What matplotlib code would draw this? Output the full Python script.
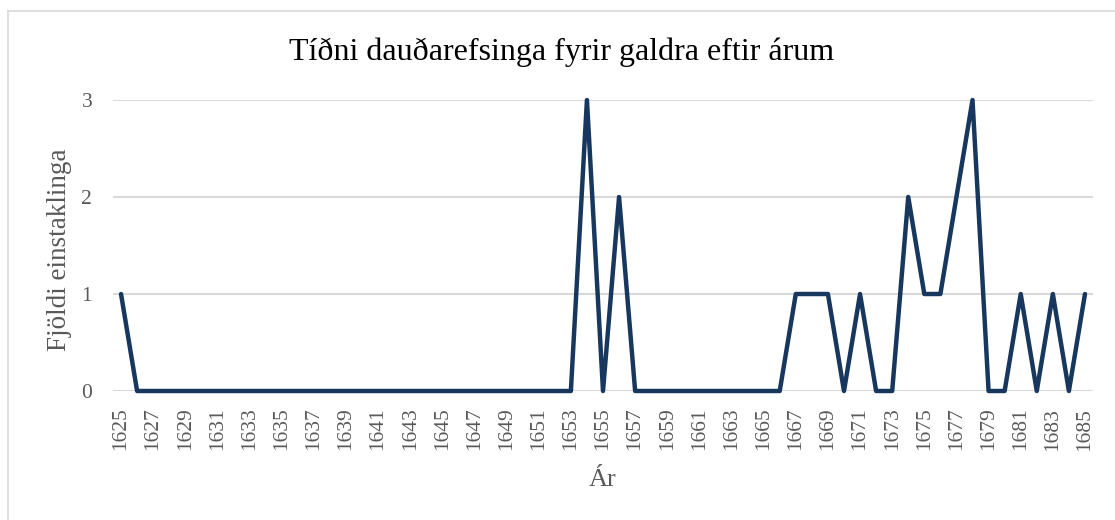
import matplotlib
matplotlib.use("Agg")
import matplotlib.pyplot as plt
import numpy as np

years = list(range(1625, 1686))
values = [1] + [0]*28 + [3, 0, 2] + [0]*10 + [1, 1, 1, 0, 1, 0, 0, 2, 1, 1, 2, 3, 0, 0, 1, 0, 1, 0, 1]
tick_years = list(range(1625, 1686, 2))
title = "Tíðni dauðarefsinga fyrir galdra eftir árum"
xlabel = "Ár"
ylabel = "Fjöldi einstaklinga"

plt.rcParams['font.family'] = ['Liberation Serif', 'DejaVu Serif']

W, H = 1115, 520
fig = plt.figure(figsize=(W/100, H/100), dpi=100)
ax = fig.add_axes([113/W, 1-391/H, (1093-113)/W, (391-100)/H])

# outer border (top and left visible)
fig.add_artist(plt.Line2D([8/W, 8/W], [0, 1-11/H], color='#d9d9d9', lw=1.2, transform=fig.transFigure))
fig.add_artist(plt.Line2D([8/W, 1], [1-11/H, 1-11/H], color='#d9d9d9', lw=1.2, transform=fig.transFigure))

ax.plot(years, values, color='#17375E', lw=3.2, solid_joinstyle='round', solid_capstyle='round', clip_on=False, zorder=3)
ax.set_xlim(1624.5, 1685.5)
ax.set_ylim(0, 3)
ax.set_yticks([0, 1, 2, 3])
ax.set_xticks(tick_years)
ax.set_xticklabels([str(y) for y in tick_years], rotation=90)
ax.grid(axis='y', color='#d9d9d9', lw=1.5)
ax.set_axisbelow(True)
for s in ax.spines.values():
    s.set_visible(False)
ax.tick_params(axis='both', length=0, labelsize=15.5, labelcolor='#595959')
ax.tick_params(axis='x', pad=12)
ax.tick_params(axis='y', pad=15)

fig.text(562/W, 1-60/H, title, ha='center', va='baseline', fontsize=23, color='#000000')
fig.text(603/W, 1-480/H, xlabel, ha='center', va='center', fontsize=19, color='#595959')
fig.text(59/W, 1-250/H, ylabel, ha='center', va='center', rotation=90, fontsize=19.5, color='#595959')

fig.savefig('out.png', dpi=100)
